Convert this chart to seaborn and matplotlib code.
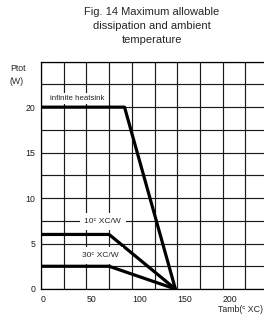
import matplotlib
matplotlib.use('Agg')
import matplotlib.pyplot as plt
import numpy as np
import pandas as pd
import seaborn as sns

# Curves (Tamb in degC, Ptot in W)
temp_inf = [0, 92, 148]
ptot_inf = [20, 20, 0]
temp_10 = [0, 75, 148]
ptot_10 = [6, 6, 0]
temp_30 = [0, 75, 148]
ptot_30 = [2.5, 2.5, 0]

curve_names = ['infinite heatsink', '10ᶜ XC/W', '30ᶜ XC/W']
x_ticks = [0, 50, 100, 150, 200]
x_tick_labels = ['0', '50', '100', '150', '200']
y_ticks = [0, 5, 10, 15, 20]
y_tick_labels = ['0', '5', '10', '15', '20']

df = pd.concat([
    pd.DataFrame({'Tamb': temp_inf, 'Ptot': ptot_inf, 'curve': curve_names[0]}),
    pd.DataFrame({'Tamb': temp_10, 'Ptot': ptot_10, 'curve': curve_names[1]}),
    pd.DataFrame({'Tamb': temp_30, 'Ptot': ptot_30, 'curve': curve_names[2]}),
])

sns.set_style('white')
plt.rcParams['font.family'] = ['Liberation Sans', 'DejaVu Sans']

fig = plt.figure(figsize=(2.64, 3.18), dpi=100)
ax = fig.add_axes([41 / 264, 29 / 318, 227 / 264, 227.3 / 318])

sns.lineplot(data=df, x='Tamb', y='Ptot', hue='curve', units='curve',
             estimator=None, sort=False, palette=['black'] * 3,
             linewidth=2.3, legend=False, ax=ax, zorder=3)

ax.set_xlim(0, 250)
ax.set_ylim(0, 25)
ax.set_xticks(x_ticks)
ax.set_xticklabels(x_tick_labels)
ax.set_yticks(y_ticks)
ax.set_yticklabels(y_tick_labels)
ax.set_xticks(np.arange(0, 251, 25), minor=True)
ax.set_yticks(np.arange(0, 25.1, 2.5), minor=True)
ax.grid(True, which='both', color='#1a1a1a', linewidth=0.85)
ax.tick_params(which='both', length=0, labelsize=6.3, colors='#1a1a1a')
ax.tick_params(axis='x', pad=4)
ax.tick_params(axis='y', pad=4)
plt.setp(ax.get_xticklabels(), ha='left')
ax.set_xlabel('')
ax.set_ylabel('')
for side in ['left', 'bottom', 'top', 'right']:
    ax.spines[side].set_color('black')
    ax.spines[side].set_linewidth(0.9)

ax.text(10, 21.0, curve_names[0], fontsize=5.7, va='center', ha='left',
        bbox=dict(facecolor='white', edgecolor='none', pad=1.5), zorder=4)
ax.text(68, 7.4, curve_names[1], fontsize=6, va='center', ha='center',
        bbox=dict(facecolor='white', edgecolor='none', pad=3.5), zorder=4)
ax.text(65, 3.7, curve_names[2], fontsize=6, va='center', ha='center',
        bbox=dict(facecolor='white', edgecolor='none', pad=3.5), zorder=4)

fig.text(152 / 264, 1 - 26 / 318, 'Fig. 14 Maximum allowable\ndissipation and ambient\ntemperature',
         ha='center', va='center', fontsize=8, linespacing=1.5)
fig.text(10 / 264, 1 - 75 / 318, 'Ptot\n(W)', ha='left', va='center', fontsize=6.3, linespacing=1.6)
fig.text(218 / 264, 1 - 310 / 318, 'Tamb(ᶜ XC)', ha='left', va='center', fontsize=6.3)

fig.savefig('out.png', dpi=100)
